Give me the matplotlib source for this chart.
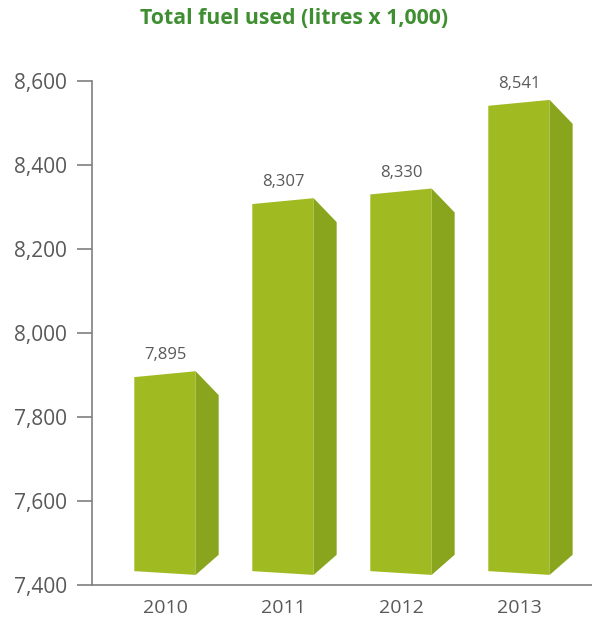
import numpy as np
from matplotlib import pyplot as plt

years = ['2010', '2011', '2012', '2013']
fuel = [7895, 8307, 8330, 8541]
value_labels = ['7,895', '8,307', '8,330', '8,541']
yticks = [7400, 7600, 7800, 8000, 8200, 8400, 8600]
ytick_labels = ['7,400', '7,600', '7,800', '8,000', '8,200', '8,400', '8,600']

front = '#a0bb22'
side = '#89a51e'
grey = '#595959'
axis_grey = '#7f7f7f'
green = '#3f8f32'

plt.rcParams['font.family'] = ['Open Sans', 'DejaVu Sans']

fig = plt.figure(figsize=(5.92, 6.22), dpi=100)
ax = fig.add_axes([92/592, 1 - 585/622, 500/592, 504/622])
ax.set_xlim(-73/118, 3.619)
ax.set_ylim(7400, 8600)

# fake 3d columns: tilted front face plus a receding side face
hw = 0.26       # half width of front face
depth = 0.195   # side face depth
rise = 14       # front top edge climbs this much left to right
base_l, base_r = 7433, 7424
for i, v in enumerate(fuel):
  xl, xr = i - hw, i + hw
  ax.fill([xl, xr, xr, xl], [base_l, base_r, v + rise, v],
          color=front, lw=0, zorder=2)
  ax.fill([xr, xr + depth, xr + depth, xr],
          [base_r, base_r + 48, v + rise - 57, v + rise],
          color=side, lw=0, zorder=2)
  ax.annotate(value_labels[i], (i, v), xytext=(0, 10), textcoords='offset points',
              ha='center', va='bottom', fontsize=12, color=grey)

ax.set_yticks(yticks)
ax.set_yticklabels(ytick_labels)
ax.set_xticks(range(len(years)))
ax.set_xticklabels(years)
ax.tick_params(axis='y', length=11, width=1.2, color=axis_grey, pad=7,
               labelsize=15, labelcolor=grey)
ax.tick_params(axis='x', length=0, pad=10, labelsize=14, labelcolor=grey)

for s in ['top', 'right']:
  ax.spines[s].set_visible(False)
for s in ['left', 'bottom']:
  ax.spines[s].set_color(axis_grey)
  ax.spines[s].set_linewidth(1.2)

fig.text(294/592, 1 - 19/622, 'Total fuel used (litres x 1,000)', ha='center',
         va='center', fontsize=15.3, fontweight='bold', color=green)

fig.savefig('out.png', dpi=100)
